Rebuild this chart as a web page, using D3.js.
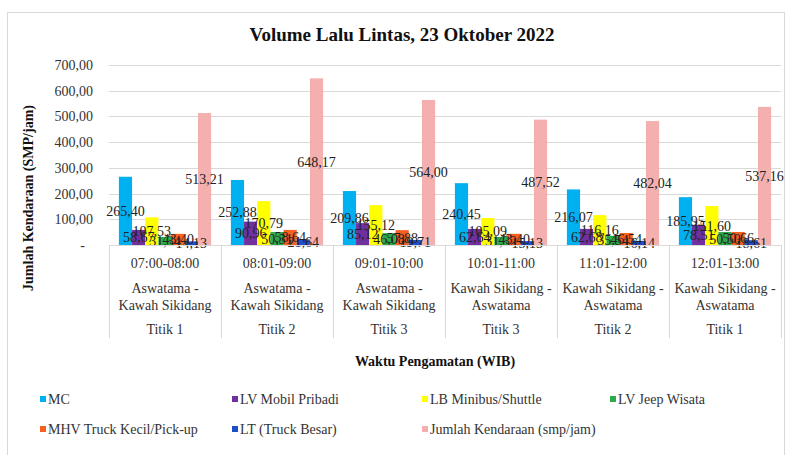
<!DOCTYPE html>
<html>
<head>
<meta charset="utf-8">
<script src="https://cdn.jsdelivr.net/npm/d3@7"></script>
<style>
  body { margin: 0; background: #fff; }
</style>
</head>
<body>
<div id="chart"></div>
<script>
// data
const times = ['07:00-08:00', '08:01-09:00', '09:01-10:00', '10:01-11:00', '11:01-12:00', '12:01-13:00'];
const routes = [
  ['Aswatama -', 'Kawah Sikidang'],
  ['Aswatama -', 'Kawah Sikidang'],
  ['Aswatama -', 'Kawah Sikidang'],
  ['Kawah Sikidang -', 'Aswatama'],
  ['Kawah Sikidang -', 'Aswatama'],
  ['Kawah Sikidang -', 'Aswatama']
];
const points = ['Titik 1', 'Titik 2', 'Titik 3', 'Titik 3', 'Titik 2', 'Titik 1'];

const seriesNames = ['MC', 'LV Mobil Pribadi', 'LB Minibus/Shuttle', 'LV Jeep Wisata',
  'MHV Truck Kecil/Pick-up', 'LT (Truck Besar)', 'Jumlah Kendaraan (smp/jam)'];
const seriesColors = ['#00b0f0', '#7030a0', '#ffff00', '#2eaa4a', '#f86020', '#1f4fc8', '#f4b0ae'];

const mc      = [265.40, 252.88, 209.86, 240.45, 216.07, 185.95];
const lvMobil = [58.67, 90.96, 85.12, 62.64, 62.68, 78.51];
const lbBus   = [107.53, 170.79, 155.12, 105.09, 116.16, 151.60];
const lvJeep  = [31.34, 50.31, 46.08, 31.32, 35.54, 50.50];
const mhv     = [43.40, 58.64, 57.88, 43.40, 46.54, 50.66];
const lt      = [14.13, 21.64, 19.71, 15.13, 16.14, 18.61];
const jumlah  = [513.21, 648.17, 564.00, 487.52, 482.04, 537.16];
const seriesValues = [mc, lvMobil, lbBus, lvJeep, mhv, lt, jumlah];

const yTicks = [0, 100, 200, 300, 400, 500, 600, 700];

const W = 785, H = 455;
const plot = {left: 109, right: 781, top: 65, bottom: 245};
const FONT = '"Liberation Serif", "Times New Roman", "DejaVu Serif", serif';

const fmt = v => v === 0 ? '-' : v.toFixed(2).replace('.', ',');

const svg = d3.select('#chart').append('svg')
  .attr('width', W).attr('height', H)
  .attr('font-family', FONT);

// outer chart border
svg.append('rect')
  .attr('x', 7.5).attr('y', 12.5)
  .attr('width', W - 8).attr('height', H - 10)
  .attr('fill', '#fff').attr('stroke', '#d9d9d9');

svg.append('text')
  .attr('x', 402).attr('y', 41)
  .attr('text-anchor', 'middle')
  .attr('font-size', 19).attr('font-weight', 'bold').attr('fill', '#111')
  .text('Volume Lalu Lintas, 23 Oktober 2022');

const x0 = d3.scaleBand().domain(times).range([plot.left, plot.right]);
const x1 = d3.scaleBand().domain(seriesNames).range([0, x0.bandwidth()])
  .paddingInner(0).paddingOuter(0.75);
const y = d3.scaleLinear().domain([0, 700]).range([plot.bottom, plot.top]);

// gridlines
svg.append('g').selectAll('line')
  .data(yTicks.filter(d => d > 0))
  .join('line')
  .attr('x1', plot.left).attr('x2', plot.right)
  .attr('y1', d => Math.round(y(d)) + 0.5).attr('y2', d => Math.round(y(d)) + 0.5)
  .attr('stroke', '#d9d9d9');

// y tick labels
const yAxis = svg.append('g')
  .attr('transform', 'translate(' + (plot.left - 16) + ',0)')
  .call(d3.axisLeft(y).tickValues(yTicks).tickFormat(fmt).tickSize(0).tickPadding(0));
yAxis.attr('font-family', FONT).attr('font-size', 14);
yAxis.select('.domain').remove();
yAxis.selectAll('text').attr('fill', '#333')
  .attr('dx', d => d === 0 ? -8 : 0);

// bars
const groups = svg.append('g').selectAll('g')
  .data(times)
  .join('g')
  .attr('transform', d => 'translate(' + x0(d) + ',0)');

groups.selectAll('rect')
  .data((t, i) => seriesNames.map((s, k) => ({s: s, v: seriesValues[k][i], c: seriesColors[k]})))
  .join('rect')
  .attr('x', d => x1(d.s))
  .attr('width', x1.bandwidth())
  .attr('y', d => y(d.v))
  .attr('height', d => y(0) - y(d.v))
  .attr('fill', d => d.c);

// data labels, centred inside the bars
groups.selectAll('text')
  .data((t, i) => seriesNames.map((s, k) => ({s: s, v: seriesValues[k][i]})))
  .join('text')
  .attr('x', d => x1(d.s) + x1.bandwidth() / 2)
  .attr('y', d => (y(d.v) + y(0)) / 2 + 5)
  .attr('text-anchor', 'middle')
  .attr('font-size', 14).attr('fill', '#222')
  .text(d => fmt(d.v));

// category axis with boxes
const catBottom = 338;
svg.append('line')
  .attr('x1', plot.left).attr('x2', plot.right)
  .attr('y1', plot.bottom + 0.5).attr('y2', plot.bottom + 0.5)
  .attr('stroke', '#d9d9d9');
svg.append('g').selectAll('line')
  .data(times.map(t => x0(t)).concat([plot.right]))
  .join('line')
  .attr('x1', d => Math.round(d) + 0.5).attr('x2', d => Math.round(d) + 0.5)
  .attr('y1', plot.bottom).attr('y2', catBottom)
  .attr('stroke', '#d9d9d9');

const cats = svg.append('g').selectAll('g')
  .data(times)
  .join('g')
  .attr('transform', d => 'translate(' + (x0(d) + x0.bandwidth() / 2) + ',0)')
  .attr('font-size', 14).attr('fill', '#333').attr('text-anchor', 'middle');
cats.append('text').attr('y', 268).text(d => d);
cats.append('text').attr('y', 293).text((d, i) => routes[i][0]);
cats.append('text').attr('y', 310).text((d, i) => routes[i][1]);
cats.append('text').attr('y', 334).text((d, i) => points[i]);

// axis titles
svg.append('text')
  .attr('x', 435).attr('y', 366)
  .attr('text-anchor', 'middle')
  .attr('font-size', 14).attr('font-weight', 'bold').attr('fill', '#111')
  .text('Waktu Pengamatan (WIB)');
svg.append('text')
  .attr('transform', 'translate(33,198) rotate(-90)')
  .attr('text-anchor', 'middle')
  .attr('font-size', 14).attr('font-weight', 'bold').attr('fill', '#111')
  .text('Jumlah Kendaraan (SMP/jam)');

// legend
const legendX = [40, 232, 422, 610];
const legend = svg.append('g').selectAll('g')
  .data(seriesNames)
  .join('g')
  .attr('transform', (d, i) => 'translate(' + legendX[i % 4] + ',' + (i < 4 ? 399 : 429) + ')');
legend.append('rect')
  .attr('x', 0).attr('y', -3).attr('width', 6).attr('height', 6)
  .attr('fill', (d, i) => seriesColors[i]);
legend.append('text')
  .attr('x', 8).attr('y', 5)
  .attr('font-size', 14).attr('fill', '#333')
  .text(d => d);
</script>
</body>
</html>
